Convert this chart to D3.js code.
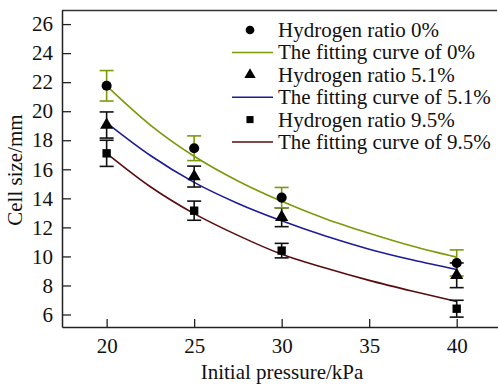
<!DOCTYPE html>
<html>
<head>
<meta charset="utf-8">
<script src="https://cdn.jsdelivr.net/npm/d3@7"></script>
<style>
  body { margin: 0; background: #fff; }
  svg { display: block; }
</style>
</head>
<body>
<div id="chart"></div>
<script>
// measured points (initial pressure in kPa)
var pressures = [20, 25, 30, 40];
var h0 = [21.75, 17.45, 14.05, 9.55];
var h0Err = [1.05, 0.85, 0.7, 0.9];
var h51 = [19.05, 15.5, 12.7, 8.7];
var h51Err = [0.9, 0.72, 0.65, 0.85];
var h95 = [17.1, 13.15, 10.4, 6.4];
var h95Err = [0.9, 0.66, 0.5, 0.58];

// fitting curves
var fitX = [20, 22.5, 25, 27.5, 30, 32.5, 35, 37.5, 40];
var fit0 = [21.75, 19.05, 16.9, 15.2, 13.8, 12.6, 11.6, 10.7, 9.95];
var fit51 = [19.2, 16.95, 15.1, 13.65, 12.45, 11.4, 10.5, 9.75, 9.1];
var fit95 = [17.1, 14.8, 12.95, 11.45, 10.15, 9.2, 8.35, 7.6, 6.9];

var xTicks = [20, 25, 30, 35, 40];
var yTicks = [6, 8, 10, 12, 14, 16, 18, 20, 22, 24, 26];

var legendLabels = ["Hydrogen ratio 0%", "The fitting curve of 0%",
  "Hydrogen ratio 5.1%", "The fitting curve of 5.1%",
  "Hydrogen ratio 9.5%", "The fitting curve of 9.5%"];

var green = "#7a9a0a", blue = "#1c1c96", maroon = "#5a0c0c";
var FONT = "Liberation Serif";

var W = 498, H = 385;
var plotL = 62, plotR = 498, plotT = 10, plotB = 327;

var svg = d3.select("#chart").append("svg")
  .attr("width", W).attr("height", H)
  .attr("font-family", FONT);

var x = d3.scaleLinear().domain([17.45, 42.36]).range([plotL, plotR]);
var y = d3.scaleLinear().domain([5.14, 26.97]).range([plotB, plotT]);

// top border
svg.append("line")
  .attr("x1", plotL).attr("x2", plotR - 1)
  .attr("y1", plotT + 0.5).attr("y2", plotT + 0.5)
  .attr("stroke", "#333").attr("stroke-width", 1.5);

// axes with inward ticks
var xAxis = svg.append("g")
  .attr("transform", "translate(0," + plotB + ")")
  .call(d3.axisBottom(x).tickValues(xTicks).tickSizeInner(-8).tickSizeOuter(0).tickPadding(11));
var yAxis = svg.append("g")
  .attr("transform", "translate(" + plotL + ",0)")
  .call(d3.axisLeft(y).tickValues(yTicks).tickSizeInner(-9).tickSizeOuter(0).tickPadding(9));

[xAxis, yAxis].forEach(function(g) {
  g.attr("font-family", FONT).attr("font-size", 21);
  g.select(".domain").attr("stroke", "#222").attr("stroke-width", 1.5);
  g.selectAll(".tick line").attr("stroke", "#222").attr("stroke-width", 1.3);
  g.selectAll(".tick text").attr("font-family", FONT).attr("font-size", 21).attr("fill", "#111");
});

// axis titles
svg.append("text")
  .attr("x", 282).attr("y", 379)
  .attr("text-anchor", "middle")
  .attr("font-family", FONT).attr("font-size", 21).attr("fill", "#111")
  .text("Initial pressure/kPa");

svg.append("text")
  .attr("transform", "translate(22,170) rotate(-90)")
  .attr("text-anchor", "middle")
  .attr("font-family", FONT).attr("font-size", 21).attr("fill", "#111")
  .text("Cell size/mm");

// fitting curves
var line = d3.line()
  .x(function(d) { return x(d[0]); })
  .y(function(d) { return y(d[1]); })
  .curve(d3.curveMonotoneX);

[[fit0, green], [fit51, blue], [fit95, maroon]].forEach(function(s) {
  svg.append("path")
    .datum(fitX.map(function(v, i) { return [v, s[0][i]]; }))
    .attr("fill", "none")
    .attr("stroke", s[1])
    .attr("stroke-width", 1.6)
    .attr("d", line);
});

// error bars
function errorBars(vals, errs, color) {
  var g = svg.append("g").attr("stroke", color).attr("stroke-width", 1.6);
  pressures.forEach(function(p, i) {
    var cx = x(p), y1 = y(vals[i] + errs[i]), y2 = y(vals[i] - errs[i]);
    g.append("line").attr("x1", cx).attr("x2", cx).attr("y1", y1).attr("y2", y2);
    g.append("line").attr("x1", cx - 7).attr("x2", cx + 7).attr("y1", y1).attr("y2", y1);
    g.append("line").attr("x1", cx - 7).attr("x2", cx + 7).attr("y1", y2).attr("y2", y2);
  });
}
errorBars(h95, h95Err, "#111");
errorBars(h51, h51Err, "#111");
errorBars(h0, h0Err, green);

// markers
var sym = {
  circle: d3.symbol().type(d3.symbolCircle).size(80),
  triangle: d3.symbol().type(d3.symbolTriangle).size(75),
  square: d3.symbol().type(d3.symbolSquare).size(70)
};
function markers(vals, shape) {
  svg.append("g").selectAll("path")
    .data(pressures)
    .join("path")
    .attr("transform", function(p, i) { return "translate(" + x(p) + "," + y(vals[i]) + ")"; })
    .attr("d", sym[shape])
    .attr("fill", "#000");
}
markers(h95, "square");
markers(h51, "triangle");
markers(h0, "circle");

// legend
var legendSmall = {
  circle: d3.symbol().type(d3.symbolCircle).size(60),
  triangle: d3.symbol().type(d3.symbolTriangle).size(55),
  square: d3.symbol().type(d3.symbolSquare).size(50)
};
var legendKeys = [["circle"], [null, green], ["triangle"], [null, blue], ["square"], [null, maroon]];
var lg = svg.append("g");
legendLabels.forEach(function(label, i) {
  var cy = 30 + i * 22.4;
  var key = legendKeys[i];
  if (key[0]) {
    lg.append("path")
      .attr("transform", "translate(250," + cy + ")")
      .attr("d", legendSmall[key[0]])
      .attr("fill", "#000");
  } else {
    lg.append("line")
      .attr("x1", 232).attr("x2", 273)
      .attr("y1", cy).attr("y2", cy)
      .attr("stroke", key[1]).attr("stroke-width", 1.5);
  }
  lg.append("text")
    .attr("x", 278).attr("y", cy + 7)
    .attr("font-family", FONT).attr("font-size", 21).attr("fill", "#111")
    .text(label);
});
</script>
</body>
</html>
